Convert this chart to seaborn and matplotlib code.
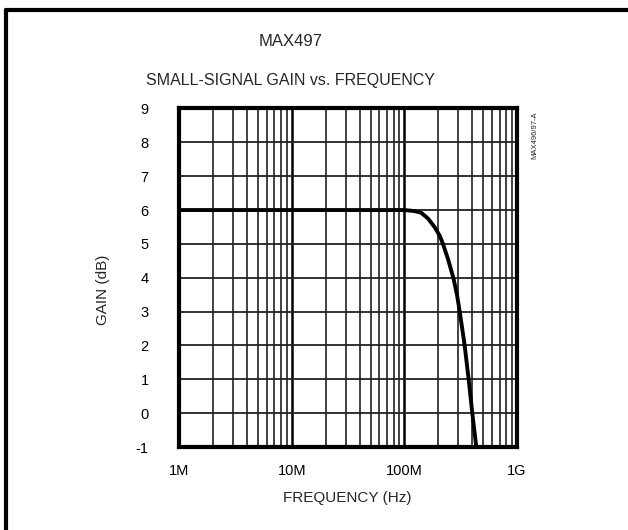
import numpy as np
import pandas as pd
import seaborn as sns
import matplotlib.pyplot as plt
from matplotlib.lines import Line2D
from matplotlib.ticker import FixedLocator, NullFormatter

# -----------------------------
# Data
# -----------------------------
freq_hz = [1e6, 1e7, 1e8, 1.23e8, 1.41e8, 1.62e8, 1.86e8, 2.06e8, 2.2e8,
           2.44e8, 2.72e8, 2.93e8, 3.1e8, 3.43e8, 3.72e8, 4.01e8, 4.35e8]
gain_db = [6.0, 6.0, 6.0, 5.97, 5.92, 5.75, 5.49, 5.24, 5.0,
           4.55, 4.0, 3.5, 3.0, 2.0, 1.0, 0.0, -1.0]

x_ticks = [1e6, 1e7, 1e8, 1e9]
x_tick_labels = ["1M", "10M", "100M", "1G"]
y_ticks = [-1, 0, 1, 2, 3, 4, 5, 6, 7, 8, 9]

df = pd.DataFrame({"freq": freq_hz, "gain": gain_db})

sns.set_theme(style="white")
plt.rcParams["font.family"] = ["Liberation Sans", "DejaVu Sans"]

fig = plt.figure(figsize=(6.28, 5.30), dpi=100)
ax = fig.add_axes([0.2855, 0.1566, 0.5377, 0.6387])

# grid: decades heavier than minor lines
minor = [m * 10 ** e for e in range(6, 9) for m in range(2, 10)]
for f in minor:
    ax.axvline(f, color="#333333", lw=1.3, zorder=1)
for f in x_ticks:
    ax.axvline(f, color="black", lw=1.8, zorder=1)
for g in y_ticks:
    ax.axhline(g, color="#222222", lw=1.3, zorder=1)

sns.lineplot(data=df, x="freq", y="gain", color="black", lw=2.8, ax=ax, zorder=3)

ax.set_xscale("log")
ax.set_xlim(1e6, 1e9)
ax.set_ylim(-1, 9)
ax.xaxis.set_major_locator(FixedLocator(x_ticks))
ax.set_xticklabels(x_tick_labels)
ax.xaxis.set_minor_formatter(NullFormatter())
ax.set_yticks(y_ticks)
ax.set_yticklabels([str(v) for v in y_ticks])
ax.tick_params(axis="both", which="both", length=0, labelsize=10.5, colors="black")
ax.tick_params(axis="x", pad=12)
ax.tick_params(axis="y", pad=22)
ax.set_xlabel("")
ax.set_ylabel("")

for s in ax.spines.values():
    s.set_visible(True)
    s.set_color("black")
    s.set_linewidth(3)

fig.text(0.553, 0.061, "FREQUENCY (Hz)", ha="center", va="center", fontsize=11)
fig.text(0.164, 0.453, "GAIN (dB)", ha="center", va="center", rotation=90, fontsize=11)
fig.text(0.462, 0.921, "MAX497", ha="center", va="center", fontsize=12)
fig.text(0.463, 0.849, "SMALL-SIGNAL GAIN vs. FREQUENCY", ha="center", va="center", fontsize=11.5)
fig.text(0.852, 0.745, "MAX496/97-A", ha="center", va="center", rotation=90, fontsize=5.5)

# frame pieces along top and left of the page
fig.add_artist(Line2D([0.009, 0.009], [0.0, 0.981], color="black", lw=3, transform=fig.transFigure))
fig.add_artist(Line2D([0.009, 1.0], [0.981, 0.981], color="black", lw=3, transform=fig.transFigure))

fig.savefig("out.png", dpi=100, facecolor="white")
